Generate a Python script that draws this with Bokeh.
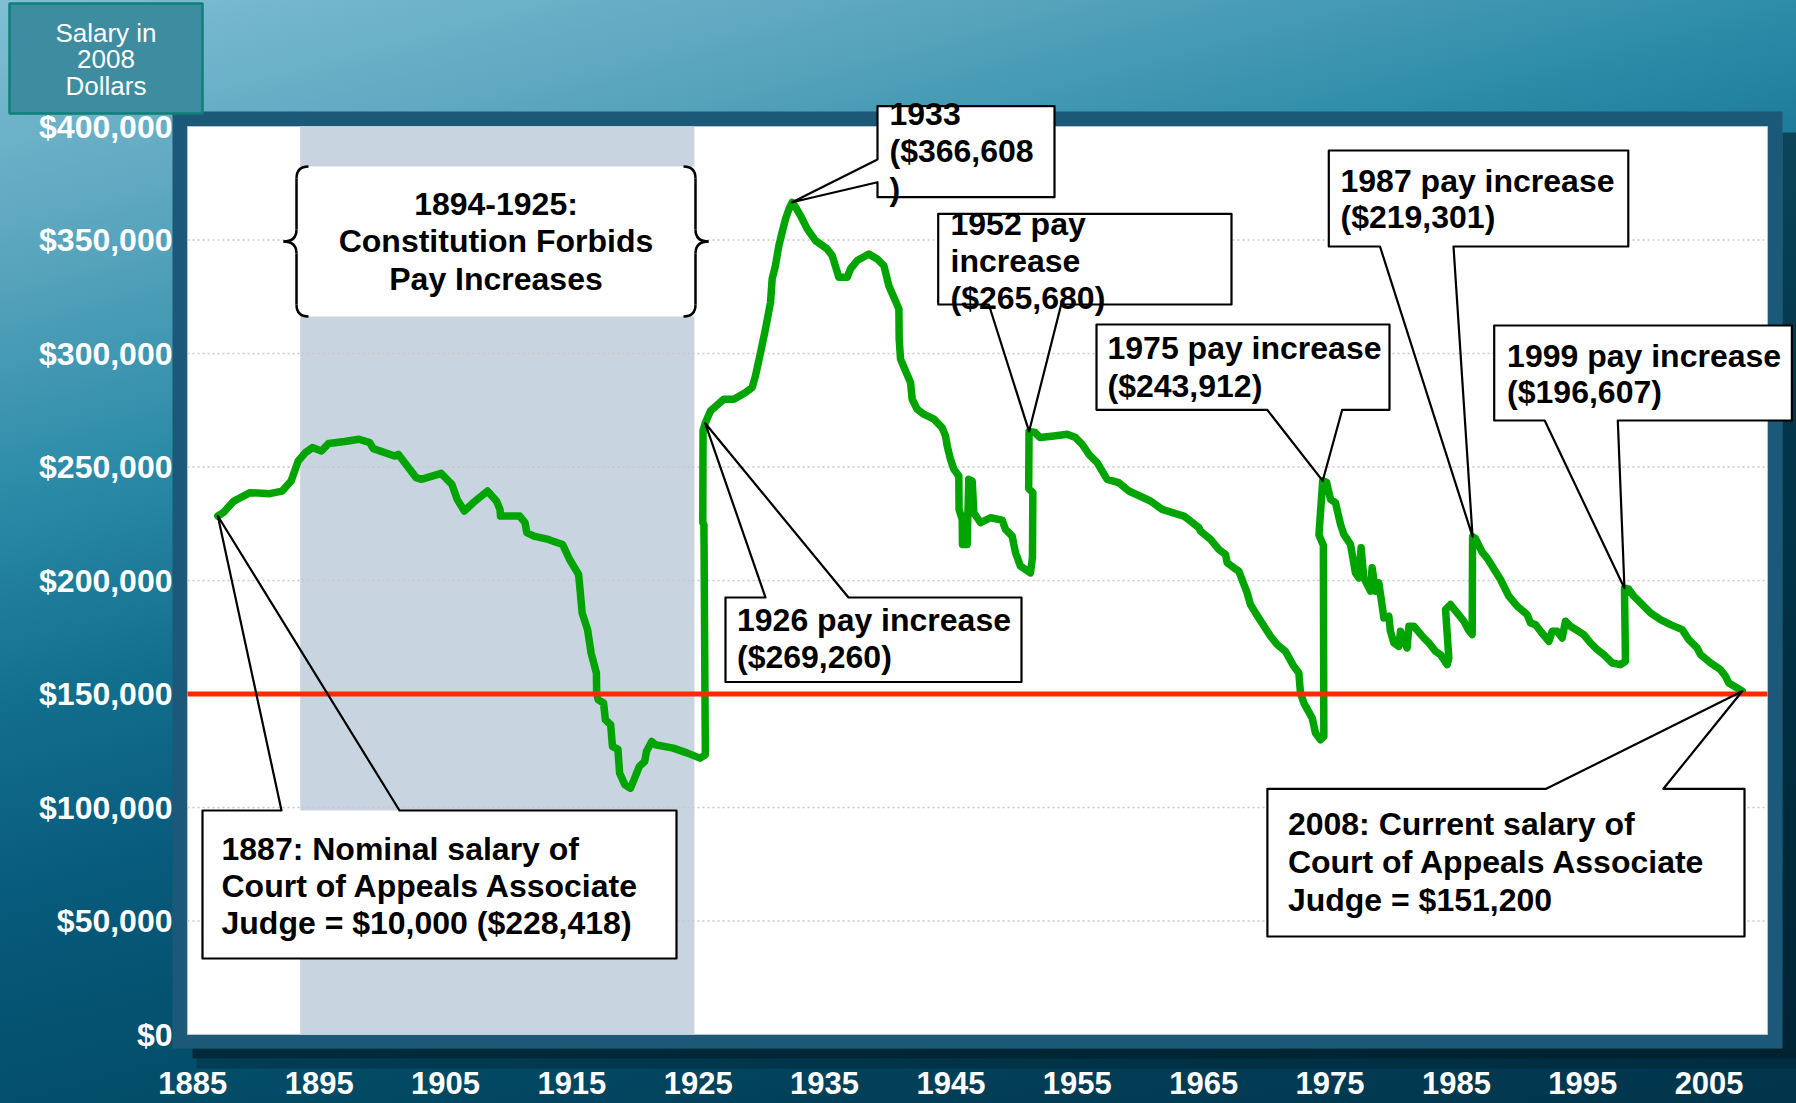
from bokeh.plotting import figure
from bokeh.models import (Range1d, FixedTicker, NumeralTickFormatter, Label,
                          BoxAnnotation, PolyAnnotation)
from bokeh.embed import file_html
from bokeh.resources import INLINE

# ---------------- data ----------------
years = [
    1886.98, 1887.41, 1888.25, 1889.53, 1891.08, 1892.07, 1892.78, 1893.34, 1893.91, 1894.47,
    1895.18, 1895.74, 1897.02, 1898.15, 1899.00, 1899.28, 1900.97, 1901.26, 1902.67, 1903.09,
    1904.65, 1905.50, 1905.92, 1906.49, 1907.19, 1908.32, 1909.03, 1909.31, 1909.35, 1910.87,
    1911.29, 1911.43, 1912.00, 1913.13, 1914.26, 1914.82, 1915.53, 1915.67, 1915.81, 1916.24,
    1916.52, 1916.94, 1916.96, 1917.08, 1917.51, 1917.65, 1918.07, 1918.21, 1918.64, 1918.78,
    1919.20, 1919.63, 1919.91, 1920.33, 1920.76, 1920.90, 1921.32, 1921.61, 1923.02, 1924.15,
    1925.14, 1925.56, 1925.45, 1925.36, 1925.38, 1925.55, 1925.97, 1927.03, 1927.82, 1928.74,
    1929.27, 1929.53, 1929.93, 1930.32, 1930.72, 1930.85, 1931.11, 1931.38, 1931.64, 1931.91,
    1932.17, 1932.43, 1932.70, 1933.09, 1933.62, 1934.28, 1935.20, 1935.60, 1936.13, 1936.79,
    1937.05, 1937.58, 1938.50, 1939.16, 1939.69, 1940.08, 1940.48, 1940.88, 1940.90, 1941.01,
    1941.40, 1941.80, 1941.93, 1942.33, 1942.85, 1943.65, 1944.30, 1944.57, 1944.70, 1944.96,
    1945.23, 1945.62, 1945.64, 1945.89, 1945.91, 1946.28, 1946.41, 1946.68, 1946.81, 1947.34,
    1948.13, 1949.05, 1949.32, 1949.84, 1950.11, 1950.50, 1951.29, 1951.45, 1951.48, 1951.15,
    1951.18, 1951.65, 1952.05, 1953.14, 1954.20, 1954.86, 1955.38, 1955.91, 1956.57, 1957.36,
    1958.28, 1959.08, 1960.79, 1961.71, 1963.43, 1963.96, 1964.62, 1964.75, 1965.54, 1966.20,
    1966.73, 1966.86, 1967.39, 1967.78, 1968.44, 1968.70, 1969.10, 1970.29, 1970.82, 1971.47,
    1972.13, 1972.53, 1972.66, 1972.93, 1973.59, 1973.85, 1974.24, 1974.51, 1974.47, 1974.12,
    1974.42, 1974.72, 1975.04, 1975.43, 1975.83, 1976.09, 1976.62, 1977.01, 1977.28, 1977.46,
    1977.67, 1978.20, 1978.33, 1978.60, 1978.86, 1979.13, 1979.26, 1979.65, 1979.78, 1980.05,
    1980.44, 1980.58, 1980.71, 1981.10, 1981.24, 1981.63, 1982.42, 1982.82, 1983.35, 1983.74,
    1984.27, 1984.40, 1984.14, 1984.53, 1985.06, 1985.59, 1985.98, 1986.25, 1986.28, 1986.50,
    1986.64, 1987.04, 1987.44, 1988.49, 1989.15, 1989.81, 1990.60, 1990.86, 1991.26, 1991.66,
    1992.32, 1992.58, 1992.97, 1993.37, 1993.63, 1994.03, 1995.08, 1995.61, 1996.14, 1996.67,
    1997.33, 1997.99, 1998.38, 1998.30, 1998.62, 1999.04, 1999.57, 2000.36, 2001.15, 2001.94,
    2002.87, 2003.39, 2004.05, 2004.32, 2005.11, 2005.90, 2006.30, 2006.56, 2007.22, 2007.62,
]
salary = [
    228418, 229900, 235000, 238700, 238260, 239400, 243820, 252640, 256350, 258550,
    257060, 260320, 261200, 262220, 260760, 258110, 254850, 255600, 245320, 244570,
    247210, 242360, 235740, 230580, 234280, 239400, 235000, 231330, 228370, 228370,
    225460, 221050, 219550, 218090, 215880, 209260, 202650, 194570, 185740, 178370,
    168090, 159260, 150440, 147480, 146020, 138660, 136450, 126870, 125720, 115130,
    109970, 108510, 112180, 118050, 120250, 124670, 129080, 127620, 126170, 123960,
    121750, 123210, 224500, 225500, 266000, 269260, 274700, 279870, 279870, 282810,
    285020, 290170, 300470, 310760, 322530, 332830, 338710, 347540, 353420, 359310,
    363500, 366608, 364500, 360780, 354890, 349740, 346070, 343130, 333560, 333560,
    337240, 340920, 343860, 341650, 338710, 329890, 324740, 319590, 306350, 297520,
    292380, 287230, 279870, 275460, 273250, 271050, 267370, 263690, 259280, 253390,
    248980, 246040, 231330, 226920, 215880, 215880, 244570, 243830, 229860, 225450,
    227650, 226620, 222500, 219560, 212210, 206320, 203380, 210000, 238700, 240500,
    265680, 265200, 262960, 263690, 264430, 262960, 260010, 255600, 251920, 244570,
    243100, 239420, 235010, 231330, 228390, 226180, 223240, 221770, 218090, 213680,
    211470, 207790, 205590, 204120, 194550, 189410, 185730, 175430, 171750, 168810,
    162190, 159250, 150430, 146010, 139390, 132770, 129830, 131300, 215500, 220000,
    243912, 243300, 235740, 234270, 224710, 220300, 215880, 203380, 201170, 214410,
    201170, 195290, 205590, 195290, 198970, 188670, 183520, 184260, 177640, 172490,
    171020, 177640, 175430, 170280, 179840, 179840, 174700, 172490, 168810, 167340,
    162930, 165870, 187200, 189410, 185730, 182050, 178000, 176200, 219301, 218500,
    217000, 212500, 209800, 200440, 193080, 188670, 184990, 181320, 180580, 177640,
    173220, 177640, 177640, 174700, 182050, 179840, 176170, 172490, 169550, 167340,
    163660, 162930, 164400, 196607, 196300, 193080, 190140, 185730, 182790, 180580,
    178370, 173960, 170280, 167340, 163660, 160720, 157780, 154840, 152630, 151200,
]
freeze_period = [1893.5, 1924.7]          # shaded band "1894-1925"
current_salary_line = 150000              # red reference line
x_ticks = [1885, 1895, 1905, 1915, 1925, 1935, 1945, 1955, 1965, 1975, 1985, 1995, 2005]
y_ticks = [0, 50000, 100000, 150000, 200000, 250000, 300000, 350000, 400000]

# ---------------- layout geometry (canvas pixels) ----------------
W, H = 1796, 1103
FL, FT, FR, FB = 187, 126, 1767, 1034      # white plot area
X0, X1 = 1884.58, 2009.62                  # x extent of the plot area
Y0, Y1 = 0, 400000                         # y extent of the plot area


def xd(px):
    return X0 + (px - FL) * (X1 - X0) / (FR - FL)


def yd(py):
    return Y0 + (FB - py) * (Y1 - Y0) / (FB - FT)


FONT = "Liberation Sans"

p = figure(width=W, height=H, output_backend="svg", toolbar_location=None,
           x_range=Range1d(xd(0), xd(W)), y_range=Range1d(yd(H), yd(0)),
           min_border_left=0, min_border_right=0, min_border_top=0, min_border_bottom=0)
p.title.visible = False
p.background_fill_color = None
p.border_fill_color = None
p.outline_line_color = None
p.grid.visible = False
p.styles = {"background": "linear-gradient(165deg, #80bfd3 0%, #58a4bd 17%, #2c8ca8 31%, "
                          "#126e8d 45%, #07597a 58%, #034f6b 70%, #023e57 85%, #01344b 100%)"}

# axes, pinned to the edges of the plot area
for ax in (p.xaxis, p.yaxis):
    ax.axis_line_color = None
    ax.major_tick_line_color = None
    ax.minor_tick_line_color = None
    ax.major_label_text_font = FONT
    ax.major_label_text_font_style = "bold"
    ax.major_label_text_color = "white"
p.yaxis.ticker = FixedTicker(ticks=y_ticks)
p.yaxis.formatter = NumeralTickFormatter(format="$0,0")
p.yaxis.major_label_text_font_size = "32px"
p.yaxis.major_label_standoff = 9
p.yaxis.fixed_location = X0
p.xaxis.ticker = FixedTicker(ticks=x_ticks)
p.xaxis.major_label_text_font_size = "31px"
p.xaxis.major_label_standoff = 31
p.xaxis.fixed_location = Y0

# frame shadow + dark frame border around the plot area
p.quad(left=[xd(192)], right=[xd(W)], top=[yd(1048)], bottom=[yd(1058)],
       fill_color="#001822", fill_alpha=0.65, line_color=None, level="image")
p.quad(left=[xd(196)], right=[xd(W)], top=[yd(1058)], bottom=[yd(1068)],
       fill_color="#001822", fill_alpha=0.3, line_color=None, level="image")
p.quad(left=[xd(1782)], right=[xd(W)], top=[yd(132)], bottom=[yd(1048)],
       fill_color="#001822", fill_alpha=0.55, line_color=None, level="image")
p.quad(left=[xd(172)], right=[xd(1782)], top=[yd(111)], bottom=[yd(1048)],
       fill_color="#1c5877", line_color=None, level="image")

# white plot area
p.quad(left=[X0], right=[X1], bottom=[Y0], top=[Y1], fill_color="white",
       line_color="#b8c4cc", line_width=1, level="image")

# shaded freeze period
p.quad(left=[freeze_period[0]], right=[freeze_period[1]], bottom=[Y0], top=[Y1],
       fill_color="#c8d5e0", line_color=None, level="image")

# dotted grid lines
grid_vals = y_ticks[1:-1]
p.segment(x0=[X0] * len(grid_vals), x1=[X1] * len(grid_vals), y0=grid_vals, y1=grid_vals,
          line_color="#c8c8c8", line_dash="2 3", line_width=1.5, level="underlay")

# bracket box "1894-1925"
p.quad(left=[xd(296)], right=[xd(695)], top=[yd(166)], bottom=[yd(316)],
       fill_color="white", line_color=None)


def brace(xv, d):
    xt, xc = xv + d * 13, xv - d * 12
    q = dict(line_color="black", line_width=2.5)
    p.quadratic(x0=[xd(xc), xd(xv), xd(xt), xd(xv)], y0=[yd(166), yd(229), yd(241), yd(304)],
                x1=[xd(xv), xd(xt), xd(xv), xd(xc)], y1=[yd(178), yd(241), yd(253), yd(316)],
                cx=[xd(xv), xd(xv), xd(xv), xd(xv)], cy=[yd(166), yd(241), yd(241), yd(316)], **q)
    p.segment(x0=[xd(xv), xd(xv)], y0=[yd(178), yd(253)], x1=[xd(xv), xd(xv)],
              y1=[yd(229), yd(304)], **q)


brace(296, -1)
brace(695, 1)
for i, s in enumerate(["1894-1925:", "Constitution Forbids", "Pay Increases"]):
    p.add_layout(Label(x=xd(495.5), y=yd(203.3 + i * 37.5), text=s, text_font=FONT,
                       text_font_size="32px", text_font_style="bold", text_color="black",
                       text_align="center", text_baseline="middle"))

# salary line
p.line(years, salary, line_color="#00a400", line_width=7.5, line_join="round", line_cap="round")

# reference line
p.segment(x0=[X0], x1=[X1], y0=[current_salary_line], y1=[current_salary_line],
          line_color="#ff2a00", line_width=5)

# "Salary in 2008 Dollars" box
p.add_layout(BoxAnnotation(left=xd(9), right=xd(202), top=yd(3), bottom=yd(113),
                           fill_color="#3e8c9f", fill_alpha=1, line_color="#0e7f79",
                           line_alpha=1, line_width=2.5))
for i, s in enumerate(["Salary in", "2008", "Dollars"]):
    p.add_layout(Label(x=xd(105.5), y=yd(32.3 + i * 26.4), text=s, text_font=FONT,
                       text_font_size="26px", text_color="white",
                       text_align="center", text_baseline="middle"))


def tip_near(hint):
    best = None
    for yr, v in zip(years, salary):
        if abs(yr - hint) <= 0.3 and (best is None or v > best[1]):
            best = (yr, v)
    return best


def callout(lines, box, side, base, tip, tx, ty, dy):
    l, t, r, b = box
    p.add_layout(BoxAnnotation(left=xd(l), right=xd(r), top=yd(t), bottom=yd(b),
                               fill_color="white", fill_alpha=1, line_color=None))
    b1, b2 = base
    if side == "top":
        pts = [(l, t), (b1, t), None, (b2, t), (r, t), (r, b), (l, b)]
    elif side == "bottom":
        pts = [(l, t), (r, t), (r, b), (b2, b), None, (b1, b), (l, b)]
    else:
        pts = [(l, t), (r, t), (r, b), (l, b), (l, b2), None, (l, b1)]
    xs = [tip[0] if q is None else xd(q[0]) for q in pts]
    ys = [tip[1] if q is None else yd(q[1]) for q in pts]
    p.add_layout(PolyAnnotation(xs=xs, ys=ys, fill_color=None, fill_alpha=0,
                                line_color="black", line_alpha=1, line_width=2.2,
                                line_join="round"))
    for i, s in enumerate(lines):
        p.add_layout(Label(x=xd(tx), y=yd(ty + i * dy), text=s, text_font=FONT,
                           text_font_size="32px", text_font_style="bold", text_color="black",
                           text_align="left", text_baseline="middle"))


callout(["1887: Nominal salary of", "Court of Appeals Associate", "Judge = $10,000 ($228,418)"],
        (202, 810, 676, 958), "top", (281, 399), (years[0], salary[0]), 221, 848, 37)
callout(["1926 pay increase", "($269,260)"],
        (725, 597, 1021, 681.5), "top", (765, 848), tip_near(1925.5), 736.5, 619.6, 37)
callout(["1933", "($366,608", ")"],
        (877, 105.7, 1054, 196.7), "left", (159, 181.7), tip_near(1932.4), 889, 113.3, 37.5)
callout(["1952 pay", "increase", "($265,680)"],
        (937.7, 213.3, 1231, 304), "bottom", (988.3, 1060.7), tip_near(1951.2), 950, 223, 37)
callout(["1975 pay increase", "($243,912)"],
        (1096, 324, 1389, 409.3), "bottom", (1266.7, 1341.7), tip_near(1974.4), 1107, 347.5, 37.5)
callout(["1987 pay increase", "($219,301)"],
        (1328.3, 150, 1627.8, 246), "bottom", (1379.5, 1453), tip_near(1986.3), 1340, 180, 36.7)
callout(["1999 pay increase", "($196,607)"],
        (1493.7, 325, 1791.4, 420), "bottom", (1544.2, 1617.3), tip_near(1998.3), 1506.6, 355, 36.7)
callout(["2008: Current salary of", "Court of Appeals Associate", "Judge = $151,200"],
        (1266.9, 788.3, 1744, 936), "top", (1545.7, 1662.9), (years[-1], salary[-1]), 1287.4, 823, 38)

open("out.html", "w").write(file_html(p, INLINE, title="Judicial salary"))
